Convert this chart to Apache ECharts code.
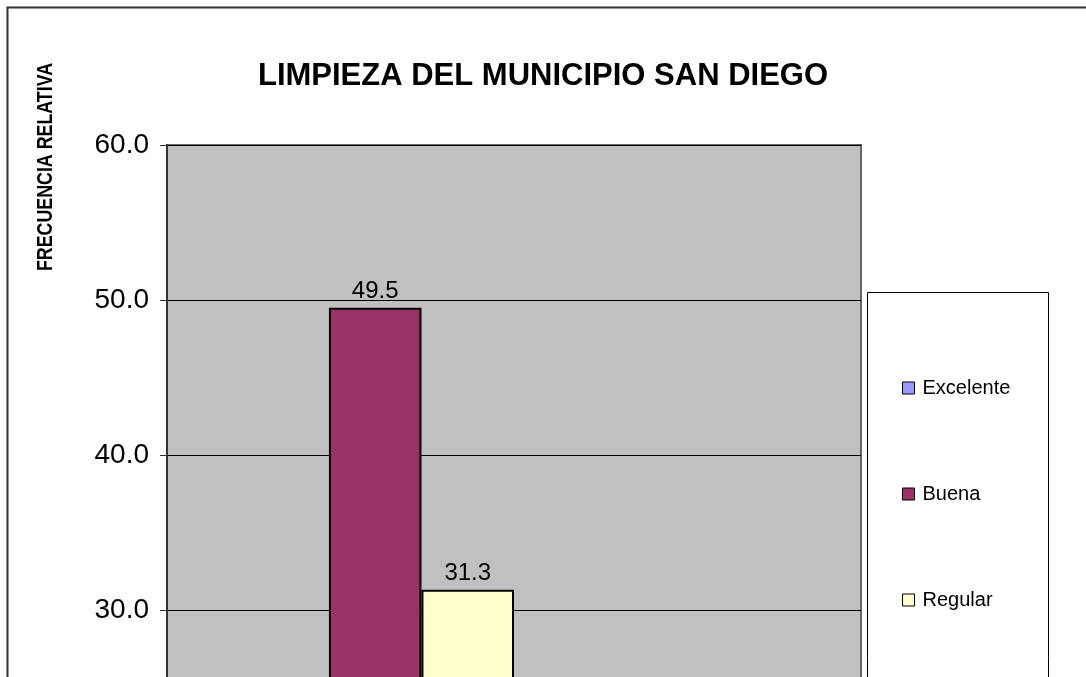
<!DOCTYPE html>
<html>
<head>
<meta charset="utf-8">
<title>Limpieza del municipio San Diego</title>
<script src="https://cdn.jsdelivr.net/npm/echarts@6/dist/echarts.min.js"></script>
<style>
	html, body { margin: 0; padding: 0; overflow: hidden; background: #fff; }
	#chart { width: 1086px; height: 1200px; }
</style>
</head>
<body>
<div id="chart"></div>
<script>
// datos del grafico (frecuencia relativa, %)
let categorias = [''];
let series_nombres = ['Excelente', 'Buena', 'Regular', 'Mala', 'Muy Mala', 'No Sabe'];
let series_valores = [4.2, 49.5, 31.3, 11.1, 2.9, 1.0];
let series_colores = ['#9999FF', '#993366', '#FFFFCC', '#CCFFFF', '#660066', '#FF8080'];
let y_ticks = [0, 10, 20, 30, 40, 50, 60];

let chart = echarts.init(document.getElementById('chart'));

let series = series_nombres.map((nombre, i) => ({
	name: nombre,
	type: 'bar',
	data: [series_valores[i]],
	barGap: '0%',
	barCategoryGap: '20%',
	itemStyle: { color: series_colores[i], borderColor: '#000', borderWidth: 2 },
	label: {
		show: true,
		position: 'top',
		distance: 4,
		color: '#000',
		fontFamily: 'Liberation Sans',
		fontSize: 24,
		formatter: (p) => p.value.toFixed(1),
	},
	emphasis: { disabled: true },
}));

let option = {
	animation: false,
	backgroundColor: '#fff',
	title: {
		text: 'LIMPIEZA DEL MUNICIPIO SAN DIEGO',
		left: 'center',
		top: 56,
		textStyle: { fontFamily: 'Liberation Sans', fontSize: 31, fontWeight: 'bold', color: '#000' },
	},
	legend: {
		orient: 'vertical',
		left: 902,
		top: 377,
		padding: 0,
		itemWidth: 12,
		itemHeight: 12,
		itemGap: 84,
		icon: 'rect',
		itemStyle: { borderColor: '#000', borderWidth: 1 },
		textStyle: { fontFamily: 'Liberation Sans', fontSize: 20, color: '#000', lineHeight: 22, padding: [0, 0, 0, 3] },
		data: series_nombres,
	},
	grid: {
		left: 167,
		top: 145,
		width: 694,
		bottom: 125,
		show: true,
		backgroundColor: '#C0C0C0',
		borderColor: '#666',
		borderWidth: 2,
	},
	xAxis: {
		type: 'category',
		data: categorias,
		axisLine: { show: false },
		axisTick: { show: false },
		axisLabel: { show: false },
	},
	yAxis: {
		type: 'value',
		min: y_ticks[0],
		max: y_ticks[y_ticks.length - 1],
		interval: 10,
		axisLine: { show: true, lineStyle: { color: '#333', width: 2 } },
		axisTick: { show: true, length: 7, lineStyle: { color: '#333' } },
		axisLabel: {
			margin: 18,
			color: '#000',
			fontFamily: 'Liberation Sans',
			fontSize: 28,
			formatter: (v) => v.toFixed(1),
		},
		splitLine: { show: true, lineStyle: { color: '#000', width: 1 } },
	},
	graphic: [
		// borde exterior del grafico
		{
			type: 'rect',
			shape: { x: 7.5, y: 7.5, width: 1300, height: 1300 },
			style: { fill: 'none', stroke: '#333', lineWidth: 2 },
			silent: true,
			z: -1,
		},
		// recuadro de la leyenda
		{
			type: 'rect',
			shape: { x: 867.5, y: 292.5, width: 181, height: 730 },
			style: { fill: '#fff', stroke: '#000', lineWidth: 1 },
			silent: true,
			z: -1,
		},
		// titulo del eje y
		{
			type: 'text',
			x: 46,
			y: 167,
			rotation: Math.PI / 2,
			scaleX: 0.81,
			style: {
				text: 'FRECUENCIA RELATIVA',
				fontFamily: 'Liberation Sans',
				fontSize: 22,
				fontWeight: 'bold',
				fill: '#000',
				align: 'center',
				verticalAlign: 'middle',
			},
			silent: true,
		},
	],
	series: series,
};

chart.setOption(option);
</script>
</body>
</html>
